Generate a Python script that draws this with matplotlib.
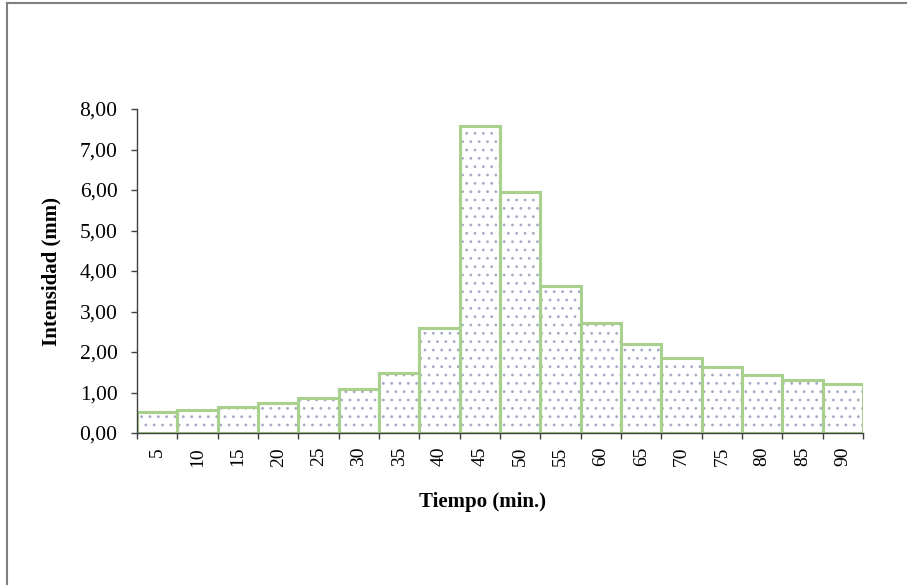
import matplotlib
matplotlib.use('Agg')
import matplotlib.pyplot as plt
from matplotlib.lines import Line2D
import numpy as np

# datos
tiempo = ['5', '10', '15', '20', '25', '30', '35', '40', '45',
          '50', '55', '60', '65', '70', '75', '80', '85', '90']
intensidad = [0.51, 0.56, 0.63, 0.73, 0.87, 1.08, 1.49, 2.60, 7.59,
              5.96, 3.64, 2.71, 2.19, 1.86, 1.62, 1.44, 1.31, 1.20]
y_ticks = [0, 1, 2, 3, 4, 5, 6, 7, 8]
y_tick_labels = ['0,00', '1,00', '2,00', '3,00', '4,00', '5,00', '6,00', '7,00', '8,00']

plt.rcParams['font.family'] = ['Liberation Serif', 'DejaVu Serif']
plt.rcParams['hatch.linewidth'] = 0.8

verde = '#a9d18e'
punto = '#a3adc3'
eje = '#404040'

fig = plt.figure(figsize=(9.07, 5.85), dpi=100)
ax = fig.add_axes([137 / 907, 1 - 433 / 585, (863 - 137) / 907, (433 - 109) / 585])

x = np.arange(len(tiempo))
# relleno punteado (el color del hatch sale del edgecolor)
ax.bar(x, intensidad, width=1.0, color='white', edgecolor=punto, hatch='..',
       linewidth=0, zorder=2)
# borde verde
ax.bar(x, intensidad, width=1.0, fill=False, edgecolor=verde, linewidth=2.2, zorder=3)

ax.set_xlim(-0.5, len(tiempo) - 0.5)
ax.set_ylim(0, 8)

ax.set_xticks(x)
ax.set_xticklabels(tiempo, rotation=90, fontsize=14)
ax.set_xticks(np.arange(len(tiempo) + 1) - 0.5, minor=True)
ax.tick_params(axis='x', which='major', length=0, pad=10)
ax.tick_params(axis='x', which='minor', length=4, width=1, color=eje, direction='out')

ax.set_yticks(y_ticks)
ax.set_yticklabels(y_tick_labels, fontsize=15.5)
ax.tick_params(axis='y', length=4, width=1, color=eje, pad=10)

for s in ['top', 'right']:
    ax.spines[s].set_visible(False)
for s in ['left', 'bottom']:
    ax.spines[s].set_color(eje)
    ax.spines[s].set_linewidth(1)
    ax.spines[s].set_zorder(4)

fig.text(51 / 907, 1 - 271 / 585, 'Intensidad (mm)', rotation=90, fontsize=15,
         fontweight='bold', ha='center', va='center')
fig.text(483 / 907, 1 - 502 / 585, 'Tiempo (min.)', fontsize=15,
         fontweight='bold', ha='center', va='center')

# marco del area del grafico
fig.add_artist(Line2D([6.5 / 907, 6.5 / 907], [0, 1 - 2.5 / 585], color='#808080', lw=1.5))
fig.add_artist(Line2D([6.5 / 907, 1], [1 - 2.5 / 585, 1 - 2.5 / 585], color='#808080', lw=1.5))

fig.savefig('out.png', dpi=100)
